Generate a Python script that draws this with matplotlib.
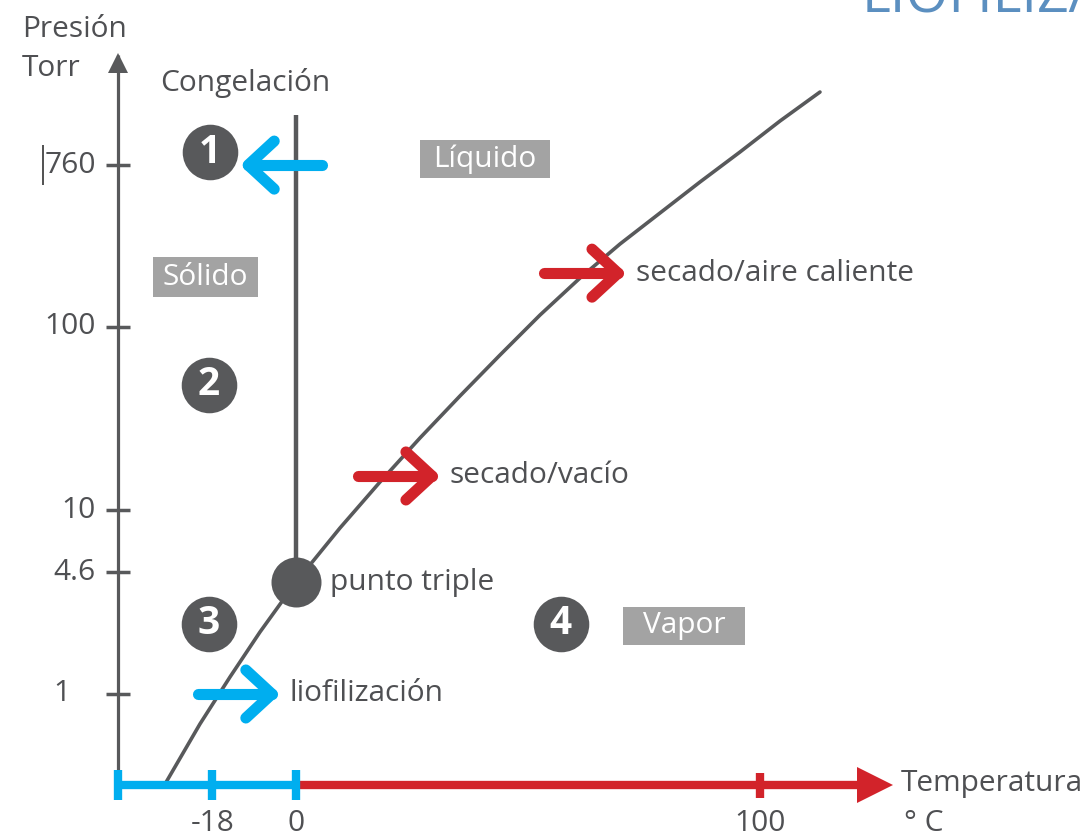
import matplotlib
matplotlib.use('Agg')
import matplotlib.pyplot as plt
from matplotlib.transforms import offset_copy
from matplotlib.patches import Rectangle

plt.rcParams['font.family'] = ['Open Sans', 'DejaVu Sans']

# ---------------- data ----------------
curve_T = [-28.23, -20.69, -14.22, -7.76, 0.0, 9.48, 18.10, 26.72, 35.34, 43.97,
           52.59, 61.21, 69.83, 78.45, 87.07, 95.69, 104.31, 112.93]
curve_P = [0.323, 0.687, 1.238, 2.176, 4.07, 8.02, 14.28, 24.8, 42.0, 70.2,
           115.9, 184.4, 282.5, 416.8, 614.8, 895.6, 1321, 1900]
triple_T, triple_P = 0.0, 4.07
freeze_T = 0.0
freeze_P_top = 1425

ytick_vals = [760, 100, 10, 4.6, 1]
ytick_labels = ['760', '100', '10', '4.6', '1']
xtick_vals = [-18, 0, 100]
xtick_labels = ['-18', '0', '100']

region_nums = ['1', '2', '3', '4']
region_T = [-18.5, -18.75, -18.75, 57.1]
region_P = [895, 48.2, 2.41, 2.41]

phase_names = ['Líquido', 'Sólido', 'Vapor']
phase_T = [40.7, -19.6, 83.6]
phase_P = [820, 186.7, 2.35]
phase_box_px = [(130, 38), (105, 40), (122, 38)]

arrow_labels = ['', 'liofilización', 'secado/vacío', 'secado/aire caliente']
arrow_tip_T = [-10.3, -5.2, 29.3, 69.4]
arrow_tip_P = [760, 1.0, 15.4, 196]
arrow_dir = [-1, 1, 1, 1]
arrow_col = ['#00aeef', '#00aeef', '#d2232a', '#d2232a']

origin_T, origin_P = -38.36, 0.319
x_arrow_tip_T = 127.6
y_arrow_tip_P = 3020

GRAY = '#58595b'
TXT = '#4f5053'
BOX = '#a3a3a3'
BLUE = '#00aeef'
RED = '#d2232a'
FS = 21.5

fig = plt.figure(figsize=(10.84, 8.38), dpi=100)
ax = fig.add_axes([0, 0, 1, 1])
ax.set_yscale('log')
ax.set_xlim(-63.79, 169.83)
ax.set_ylim(0.1643, 6026)
ax.axis('off')

def off(dx, dy):
    return offset_copy(ax.transData, fig=fig, x=dx, y=dy, units='dots')

# ---------- y axis ----------
ax.plot([origin_T, origin_T], [origin_P, y_arrow_tip_P], color=GRAY, lw=2.3,
        solid_capstyle='butt', zorder=2)
ax.plot([origin_T], [y_arrow_tip_P], marker='^', ms=15, color=GRAY, mew=0,
        transform=off(0, -8), zorder=2)
for v, lab in zip(ytick_vals, ytick_labels):
    ax.plot([origin_T], [v], color=GRAY, zorder=2, marker='_', ms=17, mew=2.5)
    if lab == '1':
        ax.text(origin_T, v, lab, transform=off(-56, 0), ha='center', va='center',
                fontsize=FS, color=TXT)
    else:
        ax.text(origin_T, v, lab, transform=off(-22, 0), ha='right', va='center',
                fontsize=FS, color=TXT)
# stray cursor mark before 760
ax.plot([origin_T], [760], transform=off(-75, 0), marker='|',
        ms=29, mew=1.2, color='#333333')

ax.text(0.02, 0.965, 'Presión', transform=ax.transAxes, ha='left', va='center',
        fontsize=FS, color=TXT)
ax.text(0.02, 0.918, 'Torr', transform=ax.transAxes, ha='left', va='center',
        fontsize=FS, color=TXT)

# ---------- x axis ----------
ax.plot([origin_T, 0], [origin_P, origin_P], color=BLUE, lw=6, solid_capstyle='butt', zorder=3)
ax.plot([0, x_arrow_tip_T - 6], [origin_P, origin_P], color=RED, lw=6,
        solid_capstyle='butt', zorder=3)
ax.plot([x_arrow_tip_T], [origin_P], marker='>', ms=26, color=RED, mew=0,
        transform=off(-13, 0), zorder=3)
for t in [origin_T, -18, 0]:
    ax.plot([t], [origin_P], marker='|', ms=22, mew=6, color=BLUE, zorder=4)
ax.plot([100], [origin_P], marker='|', ms=18, mew=6, color=RED, zorder=4)
for v, lab in zip(xtick_vals, xtick_labels):
    ax.text(v, origin_P, lab, transform=off(0, -46), ha='center', va='baseline',
            fontsize=FS, color=TXT)
ax.text(x_arrow_tip_T, origin_P, 'Temperatura', transform=off(13, 2), ha='left',
        va='center', fontsize=FS, color=TXT)
ax.text(x_arrow_tip_T, origin_P, '° C', transform=off(16, -46), ha='left',
        va='baseline', fontsize=FS, color=TXT)

# ---------- curve & freezing line ----------
ax.plot(curve_T, curve_P, color=GRAY, lw=2.6, solid_capstyle='round',
        solid_joinstyle='round', zorder=2)
ax.plot([freeze_T, freeze_T], [triple_P, freeze_P_top], color=GRAY, lw=3.2,
        solid_capstyle='butt', zorder=2)
ax.text(-11.0, 2128, 'Congelación', ha='center', va='center', fontsize=FS, color=TXT)
ax.plot([triple_T], [triple_P], marker='o', ms=36, color=GRAY, mew=0, zorder=5)
ax.text(triple_T, triple_P, 'punto triple', transform=off(34, 0), ha='left',
        va='center', fontsize=FS, color=TXT)

# ---------- region numbers ----------
for n, t, p in zip(region_nums, region_T, region_P):
    ax.plot([t], [p], marker='o', ms=40, color=GRAY, mew=0, zorder=5)
    ax.text(t, p, n, ha='center', va='center', fontsize=28, fontweight='bold',
            color='white', zorder=6)

# ---------- phase labels ----------
tr = ax.transData
inv = tr.inverted()
for name, t, p, (w, h) in zip(phase_names, phase_T, phase_P, phase_box_px):
    cx, cy = tr.transform((t, p))
    (x0, y0), (x1, y1) = inv.transform([(cx - w / 2, cy - h / 2), (cx + w / 2, cy + h / 2)])
    ax.add_patch(Rectangle((x0, y0), x1 - x0, y1 - y0, fc=BOX, ec='none', zorder=3))
    ax.text(t, p, name, ha='center', va='center', fontsize=FS, color='white', zorder=4)

# ---------- process arrows ----------
for lab, t, p, d, c in zip(arrow_labels, arrow_tip_T, arrow_tip_P, arrow_dir, arrow_col):
    x0, y0 = tr.transform((t, p))
    pts_shaft = [(x0 - d * 74, y0), (x0, y0)]
    pts_head = [(x0 - d * 26, y0 + 24), (x0, y0), (x0 - d * 26, y0 - 24)]
    s = inv.transform(pts_shaft)
    h = inv.transform(pts_head)
    ax.plot(s[:, 0], s[:, 1], color=c, lw=8, solid_capstyle='round', zorder=4)
    ax.plot(h[:, 0], h[:, 1], color=c, lw=8, solid_capstyle='round',
            solid_joinstyle='round', zorder=4)
    if lab:
        ax.text(t, p, lab, transform=off(18, 0), ha='left', va='center',
                fontsize=FS, color=TXT)

# ---------- clipped page title ----------
ax.text(862 / 1084, 1.0 - 12 / 838, 'LIOFILIZACIÓN', transform=ax.transAxes, ha='left',
        va='baseline', fontsize=40, color='#5b8fc0')

fig.savefig('out.png', dpi=100)
